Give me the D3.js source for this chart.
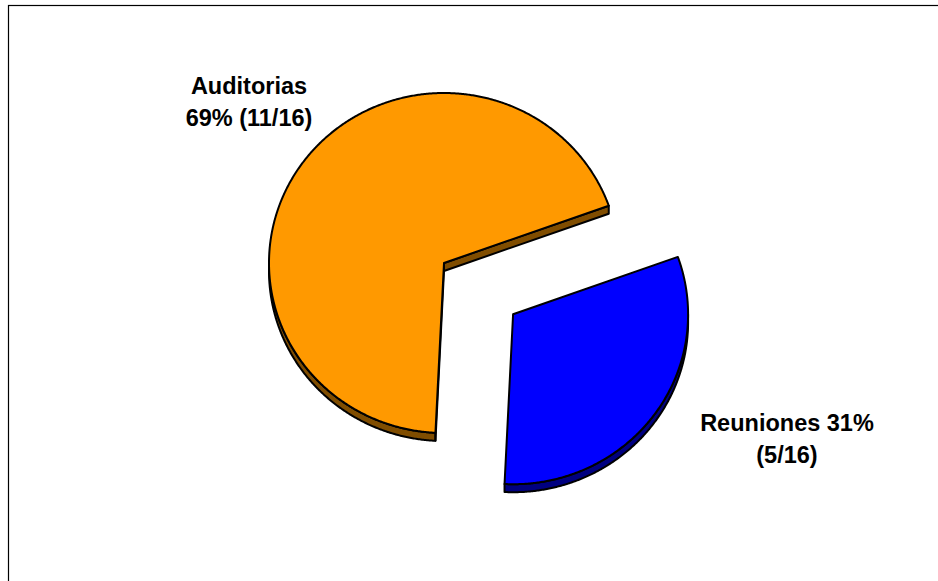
<!DOCTYPE html>
<html><head><meta charset="utf-8">
<script src="https://cdn.jsdelivr.net/npm/d3@7"></script>
<style>body{margin:0;background:#fff;} svg{display:block;}</style>
</head><body>
<script>
const categories = ["Auditorias", "Reuniones"];
const values = [11, 5];
const labelLines = [["Auditorias", "69% (11/16)"], ["Reuniones 31%", "(5/16)"]];
const topColors = ["#FF9900", "#0000FF"];
const sideColors = ["#804D00", "#000080"];

const W = 938, H = 581;
const svg = d3.select("body").append("svg").attr("width", W).attr("height", H);
svg.append("rect").attr("x", 8.5).attr("y", 5.5).attr("width", W).attr("height", H)
  .attr("fill", "none").attr("stroke", "#000").attr("stroke-width", 1.2);

const rx = 175, ry = 170, depth = 8;
const explode = [0, 86];
const center = {x: 444, y: 263};
const deg = Math.PI / 180;
const start = 182.8 * deg;
const pie = d3.pie().sort(null).startAngle(start).endAngle(start + 2 * Math.PI);
const arcs = pie(values);
const line = d3.line();
function pt(c, a, dy = 0) { return [c.x + rx * Math.sin(a), c.y - ry * Math.cos(a) + dy]; }
function arcPts(c, a0, a1, dy = 0) {
  const n = Math.max(2, Math.ceil(Math.abs(a1 - a0) / (0.4 * deg)));
  return d3.range(n + 1).map(i => pt(c, a0 + (a1 - a0) * i / n, dy));
}
const strokeW = 2;

arcs.forEach((d, i) => {
  const mid = (d.startAngle + d.endAngle) / 2;
  const c = {x: center.x + explode[i] * Math.sin(mid), y: center.y - explode[i] * Math.cos(mid)};
  const g = svg.append("g").attr("stroke", "#000").attr("stroke-width", strokeW).attr("stroke-linejoin", "round");
  // outer side walls (front-facing part of the rim)
  for (let k = -1; k <= 2; k++) {
    const lo = Math.max(d.startAngle, (90 + 360 * k) * deg);
    const hi = Math.min(d.endAngle, (270 + 360 * k) * deg);
    if (hi > lo) {
      const pts = arcPts(c, lo, hi).concat(arcPts(c, hi, lo, depth));
      g.append("path").attr("d", line(pts) + "Z").attr("fill", sideColors[i]);
    }
  }
  // radial walls facing the viewer
  function wall(a) {
    const p = pt(c, a);
    const pts = [[c.x, c.y], p, [p[0], p[1] + depth], [c.x, c.y + depth]];
    g.append("path").attr("d", line(pts) + "Z").attr("fill", sideColors[i]);
  }
  if (Math.sin(d.startAngle) < 0) wall(d.startAngle);
  if (Math.sin(d.endAngle) > 0) wall(d.endAngle);
  // top face
  const top = [[c.x, c.y]].concat(arcPts(c, d.startAngle, d.endAngle));
  g.append("path").attr("d", line(top) + "Z").attr("fill", topColors[i]);
});

const labelPos = [[249, 94], [787, 431]];
const lineH = 31.5;
labelLines.forEach((lines, i) => {
  const t = svg.append("text")
    .attr("font-family", "'Liberation Sans', Arial, sans-serif")
    .attr("font-weight", "bold").attr("font-size", 23.5)
    .attr("text-anchor", "middle").attr("fill", "#000");
  lines.forEach((s, j) => {
    t.append("tspan").attr("x", labelPos[i][0]).attr("y", labelPos[i][1] + j * lineH).text(s);
  });
});
</script>
</body></html>
